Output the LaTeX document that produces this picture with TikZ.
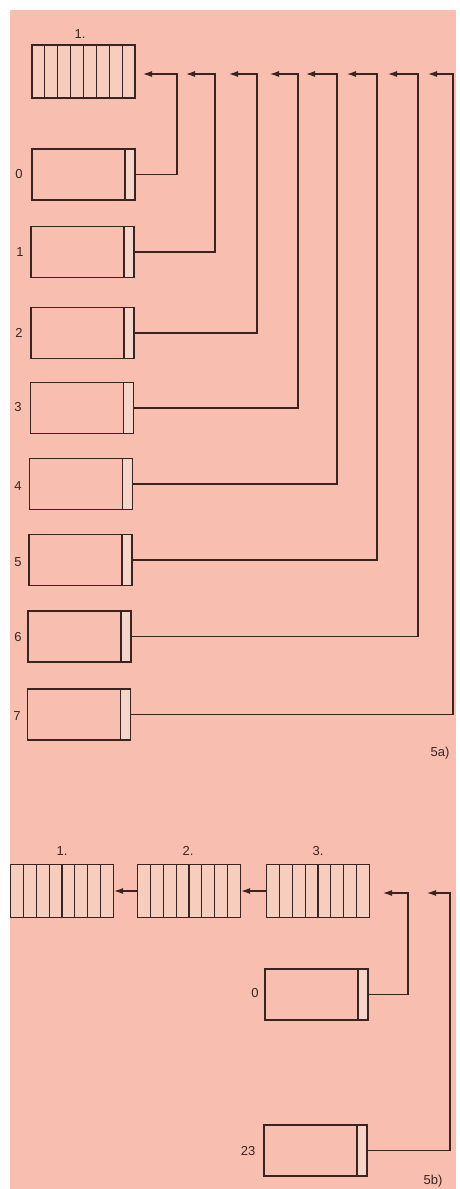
\documentclass[tikz,border=0pt]{standalone}
\usepackage{fontspec}
\setmainfont{Liberation Sans}
\usetikzlibrary{arrows.meta}
\definecolor{bg}{HTML}{F8BFB0}
\definecolor{cellc}{HTML}{F7CDBE}
\definecolor{light}{HTML}{F6D6C8}
\definecolor{ink}{HTML}{3A2422}
\tikzset{
  reg/.style={draw=ink, line width=1.3pt, fill=cellc, minimum width=103pt, minimum height=53pt, inner sep=0pt,
    path picture={\foreach \i in {1,...,7}{\draw[ink, line width=1.2pt] ([xshift=\i*12.875pt]path picture bounding box.south west) -- ([xshift=\i*12.875pt]path picture bounding box.north west);}}},
  memb/.style={draw=ink, line width=1.3pt, fill=bg, minimum width=103pt, minimum height=51pt, inner sep=0pt,
    path picture={\fill[light] ([xshift=-10pt]path picture bounding box.south east) rectangle (path picture bounding box.north east);
      \draw[ink, line width=1.2pt] ([xshift=-10pt]path picture bounding box.south east) -- ([xshift=-10pt]path picture bounding box.north east);}},
  lab/.style={text=ink, font=\fontsize{13pt}{14pt}\selectfont, inner sep=0pt},
  conn/.style={draw=ink, line width=1.1pt},
  arr/.style={conn, -{Latex[length=9pt,width=6pt]}}
}
\begin{document}
\begin{tikzpicture}[x=1pt,y=-1pt]
\useasboundingbox (0,0) rectangle (459,1189);
\fill[white] (0,0) rectangle (459,1189);
\fill[bg] (10,10) rectangle (456,1189);
% ---- 5a ----
\node[reg] (r1) at (83.5,71.5) {};
\node[lab] (r1l) at (80,34) {1.};
\node[memb] (b0) at (83.5,174.5) {};
\node[memb] (b1) at (82.5,252) {};
\node[memb] (b2) at (82.5,333) {};
\node[memb] (b3) at (82,408) {};
\node[memb] (b4) at (81,484) {};
\node[memb] (b5) at (80.5,560) {};
\node[memb] (b6) at (79.5,636.5) {};
\node[memb] (b7) at (79,714.5) {};
\node[lab] (l0) at (19,174) {0};
\node[lab] (l1) at (20,252) {1};
\node[lab] (l2) at (19,333) {2};
\node[lab] (l3) at (18,407) {3};
\node[lab] (l4) at (18,486) {4};
\node[lab] (l5) at (18,562) {5};
\node[lab] (l6) at (18,637) {6};
\node[lab] (l7) at (17,716) {7};
\node[lab] (l5a) at (440,753) {5a)};
\foreach \n/\cx/\tx in {0/177/143, 1/215/186, 2/257/229, 3/298/270, 4/337/306, 5/377/347, 6/418/388, 7/453/428}{
  \coordinate (c\n) at (\cx,74);
  \coordinate (t\n) at (\tx,74);
  \draw[arr] (b\n.east) -| (c\n) -- (t\n);
}
% ---- 5b ----
\node[reg] (q1) at (62,891) {};
\node[reg] (q2) at (189,891) {};
\node[reg] (q3) at (318,891) {};
\node[lab] (q1l) at (62,851) {1.};
\node[lab] (q2l) at (188,851) {2.};
\node[lab] (q3l) at (318,851) {3.};
\draw[arr] (q2.west) -- (q1.east);
\draw[arr] (q3.west) -- (q2.east);
\node[memb] (m0) at (316.5,994.5) {};
\node[memb] (m23) at (315.5,1150.5) {};
\node[lab] (ml0) at (255,993) {0};
\node[lab] (ml23) at (248,1151) {23};
\node[lab] (l5b) at (433,1181) {5b)};
\coordinate (d0) at (408,893);
\coordinate (s0) at (383,893);
\coordinate (d1) at (450,893);
\coordinate (s1) at (427,893);
\draw[arr] (m0.east) -| (d0) -- (s0);
\draw[arr] (m23.east) -| (d1) -- (s1);
\end{tikzpicture}
\end{document}
